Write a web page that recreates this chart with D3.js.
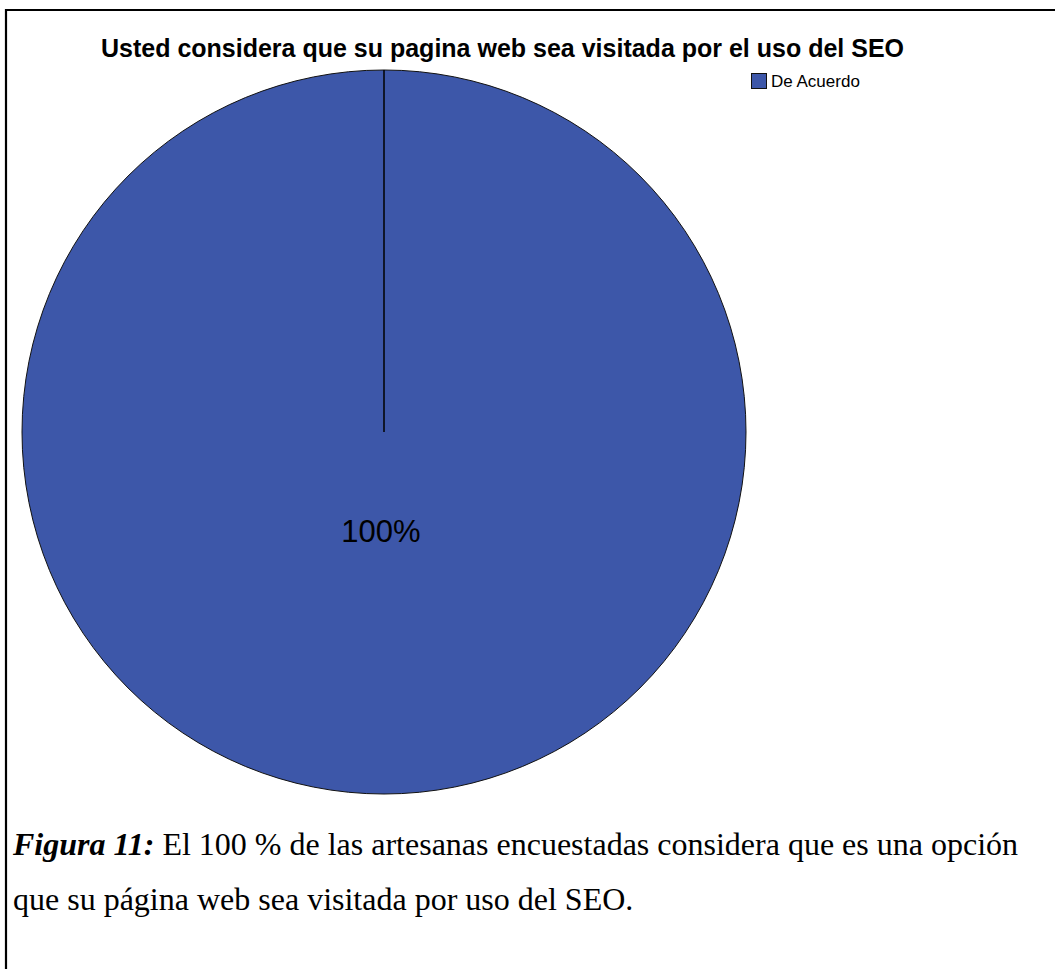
<!DOCTYPE html>
<html>
<head>
<meta charset="utf-8">
<script src="https://cdn.jsdelivr.net/npm/d3@7"></script>
<style>
  body { margin: 0; background: #fff; }
  text { font-family: "Liberation Sans", Arial, sans-serif; }
  .caption { font-family: "Liberation Serif", "Times New Roman", serif; }
</style>
</head>
<body>
<script>

// data
var categories = ["De Acuerdo"];
var values = [100];
var sliceLabels = ["100%"];
var chartTitle = "Usted considera que su pagina web sea visitada por el uso del SEO";
var captionBold = "Figura 11:";
var captionLines = [" El 100 % de las artesanas encuestadas considera que es una opción",
                    "que su página web sea visitada por uso del SEO."];

var W = 1055, H = 969;
var color = d3.scaleOrdinal().domain(categories).range(["#3d57a9"]);

var svg = d3.select("body").append("svg")
    .attr("width", W)
    .attr("height", H);

// frame
svg.append("path")
    .attr("d", "M6,969 V10 H1055")
    .attr("fill", "none")
    .attr("stroke", "#000")
    .attr("stroke-width", 2.2);

// title
svg.append("text")
    .attr("x", 502.5)
    .attr("y", 56.5)
    .attr("text-anchor", "middle")
    .style("font-size", "25px")
    .style("font-weight", "bold")
    .text(chartTitle);

// pie
var cx = 384, cy = 432, r = 362;
var pie = d3.pie().sort(null);
var arc = d3.arc().innerRadius(0).outerRadius(r);
var angle = d3.scaleLinear().domain([0, d3.sum(values)]).range([0, 2 * Math.PI]);

var g = svg.append("g")
    .attr("transform", "translate(" + cx + "," + cy + ")");

g.selectAll(".slice")
    .data(pie(values))
  .enter().append("path")
    .attr("class", "slice")
    .attr("d", arc)
    .attr("fill", function(d, i) { return color(categories[i]); })
    .attr("stroke", "#111")
    .attr("stroke-width", 1);

// slice border lines (start of each slice)
g.selectAll(".edge")
    .data(pie(values))
  .enter().append("line")
    .attr("class", "edge")
    .attr("x1", 0).attr("y1", 0)
    .attr("x2", function(d) { return r * Math.sin(angle(0) + d.startAngle); })
    .attr("y2", function(d) { return -r * Math.cos(angle(0) + d.startAngle); })
    .attr("stroke", "#000")
    .attr("stroke-width", 1.5);

// slice labels
g.selectAll(".lbl")
    .data(pie(values))
  .enter().append("text")
    .attr("class", "lbl")
    .attr("x", -3)
    .attr("y", 110)
    .attr("text-anchor", "middle")
    .style("font-size", "31px")
    .text(function(d, i) { return sliceLabels[i]; });

// legend
var legend = svg.selectAll(".legend")
    .data(categories)
  .enter().append("g")
    .attr("class", "legend")
    .attr("transform", function(d, i) { return "translate(751," + (73 + i * 20) + ")"; });

legend.append("rect")
    .attr("x", 0.5).attr("y", 0.5)
    .attr("width", 15)
    .attr("height", 15)
    .attr("fill", color)
    .attr("stroke", "#111");

legend.append("text")
    .attr("x", 20)
    .attr("y", 14)
    .style("font-size", "17px")
    .text(function(d) { return d; });

// caption
var cap = svg.append("text")
    .attr("class", "caption")
    .attr("x", 13)
    .attr("y", 855)
    .style("font-size", "32px");
cap.append("tspan")
    .style("font-weight", "bold")
    .style("font-style", "italic")
    .text(captionBold);
cap.append("tspan").text(captionLines[0]);

svg.append("text")
    .attr("class", "caption")
    .attr("x", 13)
    .attr("y", 910)
    .style("font-size", "32px")
    .text(captionLines[1]);

</script>
</body>
</html>
